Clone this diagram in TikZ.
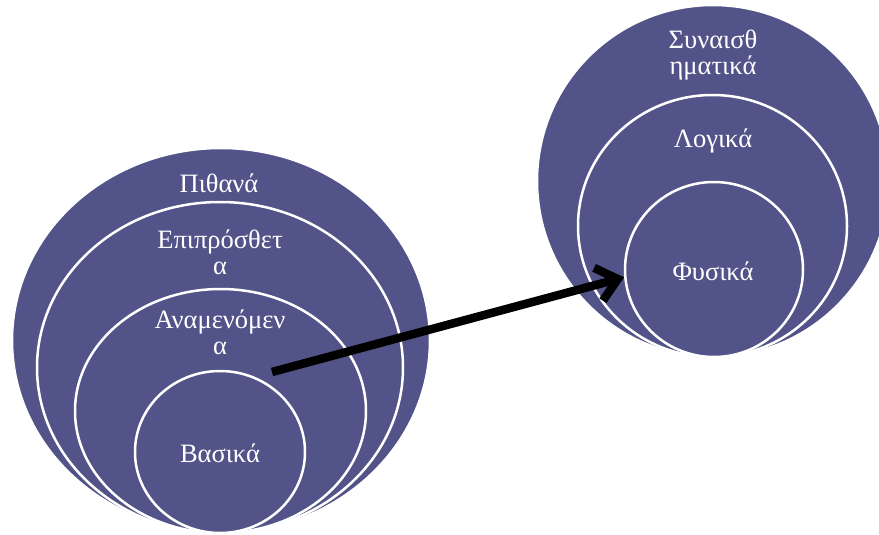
\documentclass[tikz,border=0pt]{standalone}
\usepackage{fontspec}
\setmainfont{Liberation Serif}
\usetikzlibrary{shapes.geometric,arrows.meta}
\definecolor{venn}{RGB}{82,84,137}
\begin{document}
\begin{tikzpicture}[x=1pt,y=-1pt,
  ring/.style={ellipse,fill=venn,draw=white,line width=2.5pt,inner sep=0pt},
  lbl/.style={text=white,font=\fontsize{26.5}{26}\selectfont,align=center,inner sep=0pt,anchor=base},
  link/.style={line width=8.5pt,-{Straight Barb[length=20pt,width=34pt]}}]
\useasboundingbox (0,0) rectangle (879,535);
\clip (0,0) rectangle (879,535);

% left stack of nested ellipses
\node[ring,minimum width=418pt,minimum height=385pt] (pithana) at (221,340.5) {};
\node[ring,minimum width=366pt,minimum height=331pt] (epipr) at (220,367.5) {};
\node[ring,minimum width=291pt,minimum height=244pt] (anamen) at (220.5,411) {};
\node[ring,minimum width=170pt,minimum height=162pt] (vasika) at (220,452) {};

% right stack of nested ellipses
\node[ring,minimum width=352pt,minimum height=352pt] (synais) at (713,181) {};
\node[ring,minimum width=269pt,minimum height=262pt] (logika) at (712.5,226) {};
\node[ring,minimum width=178pt,minimum height=175pt] (fysika) at (714,269.5) {};

% labels (base anchor sits on the last line)
\node[lbl] (t1) at (219,192) {Πιθανά};
\node[lbl] (t2) at (220,274) {Επιπρόσθετ\\α};
\node[lbl] (t3) at (220,354) {Αναμενόμεν\\α};
\node[lbl] (t4) at (220,462) {Βασικά};
\node[lbl] (t5) at (713,75) {Συναισθ\\ηματικά};
\node[lbl] (t6) at (713,147) {Λογικά};
\node[lbl] (t7) at (713,280) {Φυσικά};

% connector
\coordinate (start) at (272,372);
\draw[link] (start) -- (fysika.185);
\end{tikzpicture}
\end{document}
